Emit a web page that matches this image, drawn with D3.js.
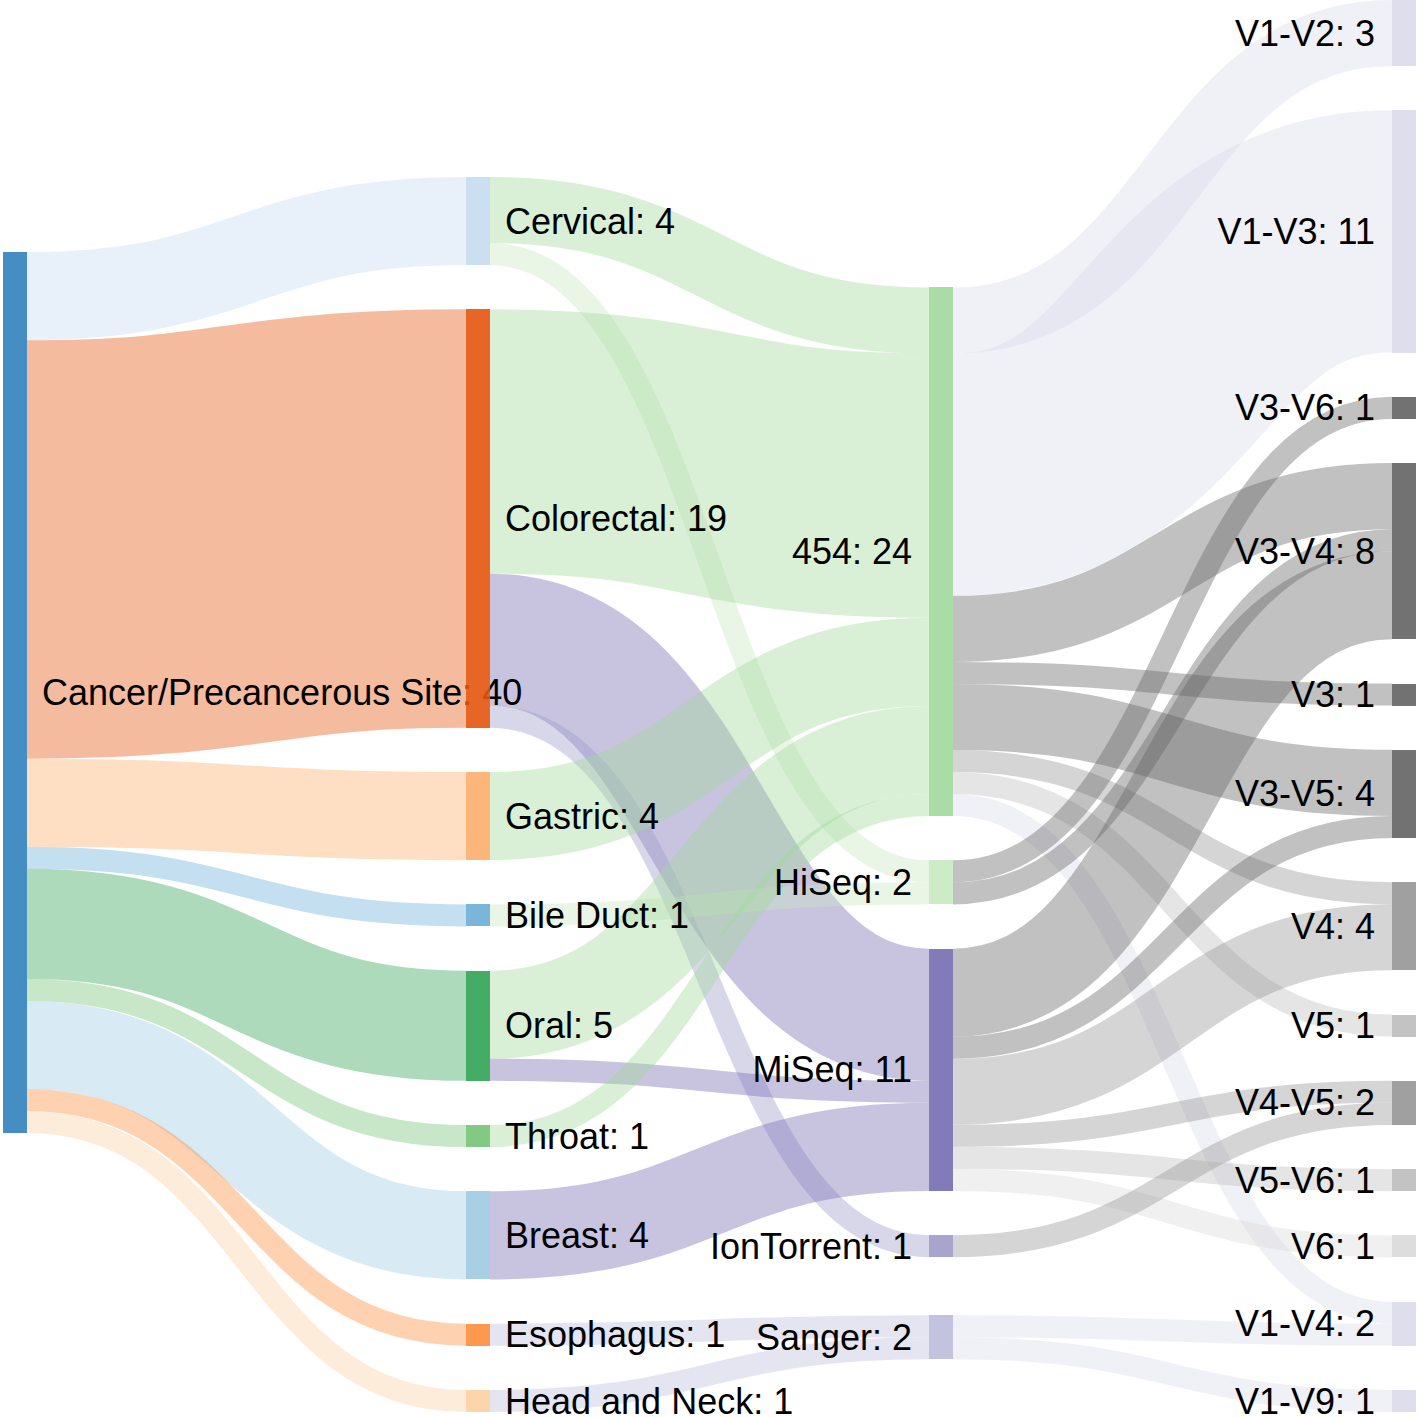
<!DOCTYPE html>
<html>
<head>
<meta charset="utf-8">
<script src="https://cdn.jsdelivr.net/npm/d3@7"></script>
<style>
  body { margin: 0; background: #fff; }
  .node rect { fill-opacity: .9; shape-rendering: crispEdges; }
  .node text { font-family: Helvetica, Arial, "Liberation Sans", sans-serif; font-size: 36px; fill: #000; }
  .link { fill: none; stroke-opacity: .4; }
</style>
</head>
<body>
<div id="chart"></div>
<script>
// data
const root = "Cancer/Precancerous Site"
const sites = ["Cervical", "Colorectal", "Gastric", "Bile Duct", "Oral", "Throat", "Breast", "Esophagus", "Head and Neck"]
const siteCounts = [4, 19, 4, 1, 5, 1, 4, 1, 1]
const platforms = ["454", "HiSeq", "MiSeq", "IonTorrent", "Sanger"]
const regions = ["V1-V2", "V1-V3", "V3-V6", "V3-V4", "V3", "V3-V5", "V4", "V5", "V4-V5", "V5-V6", "V6", "V1-V4", "V1-V9"]

const sitePlatform = [
    ["Cervical", "454", 3], ["Cervical", "HiSeq", 1],
    ["Colorectal", "454", 12], ["Colorectal", "MiSeq", 6], ["Colorectal", "IonTorrent", 1],
    ["Gastric", "454", 4],
    ["Bile Duct", "HiSeq", 1],
    ["Oral", "454", 4], ["Oral", "MiSeq", 1],
    ["Throat", "454", 1],
    ["Breast", "MiSeq", 4],
    ["Esophagus", "Sanger", 1],
    ["Head and Neck", "Sanger", 1]
]

const platformRegion = [
    ["454", "V1-V2", 3], ["454", "V1-V3", 11], ["454", "V3-V4", 3], ["454", "V3", 1],
    ["454", "V3-V5", 3], ["454", "V4", 1], ["454", "V5", 1], ["454", "V1-V4", 1],
    ["HiSeq", "V3-V6", 1], ["HiSeq", "V3-V4", 1],
    ["MiSeq", "V3-V4", 4], ["MiSeq", "V3-V5", 1], ["MiSeq", "V4", 3], ["MiSeq", "V4-V5", 1],
    ["MiSeq", "V5-V6", 1], ["MiSeq", "V6", 1],
    ["IonTorrent", "V4-V5", 1],
    ["Sanger", "V1-V4", 1], ["Sanger", "V1-V9", 1]
]

// colours (category20c shades)
const nodeColors = {
    "Cancer/Precancerous Site": "#3182bd",
    "Cervical": "#c6dbef", "Colorectal": "#e6550d", "Gastric": "#fdae6b", "Bile Duct": "#6baed6",
    "Oral": "#31a354", "Throat": "#74c476", "Breast": "#9ecae1", "Esophagus": "#fd8d3c", "Head and Neck": "#fdd0a2",
    "454": "#a1d99b", "HiSeq": "#c7e9c0", "MiSeq": "#756bb1", "IonTorrent": "#9e9ac8", "Sanger": "#bcbddc",
    "V1-V2": "#dadaeb", "V1-V3": "#dadaeb", "V3-V6": "#636363", "V3-V4": "#636363", "V3": "#636363",
    "V3-V5": "#636363", "V4": "#969696", "V5": "#bdbdbd", "V4-V5": "#969696", "V5-V6": "#bdbdbd",
    "V6": "#d9d9d9", "V1-V4": "#dadaeb", "V1-V9": "#dadaeb"
}

margin = {top: 0, left: 3}
width = 1413
height = 1412
nodeWidth = 24
nodePadding = 44.25

// build graph
nodes = [root].concat(sites, platforms, regions).map((name) => ({name: name}))
byName = new Map(nodes.map((n) => [n.name, n]))
links = sites.map((s, i) => [root, s, siteCounts[i]])
    .concat(sitePlatform, platformRegion)
    .map((e) => ({source: byName.get(e[0]), target: byName.get(e[1]), value: e[2]}))

sankeyLayout(nodes, links, 32, .7)

svg = d3.select("#chart")
    .append("svg")
    .attr("width", 1418)
    .attr("height", 1417)

g = svg.append("g")
    .attr("transform", "translate(" + margin.left + "," + margin.top + ")")

g.append("g")
    .selectAll("path")
    .data(links)
    .enter()
    .append("path")
    .attr("class", "link")
    .attr("d", linkPath)
    .attr("stroke", (e) => nodeColors[e.target.name])
    .attr("stroke-width", (e) => Math.max(1, e.dy))

node = g.append("g")
    .selectAll("g")
    .data(nodes)
    .enter()
    .append("g")
    .attr("class", "node")
    .attr("transform", (e) => "translate(" + e.x + "," + e.y + ")")

node.append("rect")
    .attr("width", nodeWidth)
    .attr("height", (e) => e.dy)
    .attr("fill", (e) => nodeColors[e.name])

node.append("text")
    .attr("x", -17)
    .attr("y", (e) => e.dy / 2)
    .attr("dy", ".35em")
    .attr("text-anchor", "end")
    .text((e) => e.name + ": " + e.value)
    .filter((e) => e.x < width / 2)
    .attr("x", nodeWidth + 15)
    .attr("text-anchor", "start")

// classic sankey layout, node order inside a column kept as given
function sankeyLayout(nodes, links, iterations, decay) {
    nodes.forEach((n) => { n.sourceLinks = []; n.targetLinks = [] })
    links.forEach((l) => { l.source.sourceLinks.push(l); l.target.targetLinks.push(l) })
    nodes.forEach((n) => {
        n.value = Math.max(d3.sum(n.sourceLinks, (l) => l.value), d3.sum(n.targetLinks, (l) => l.value))
    })

    // breadths
    remaining = nodes
    x = 0
    while (remaining.length) {
        next = []
        remaining.forEach((n) => {
            n.x = x
            n.dx = nodeWidth
            n.sourceLinks.forEach((l) => { if (next.indexOf(l.target) < 0) next.push(l.target) })
        })
        remaining = next
        x++
    }
    nodes.forEach((n) => { if (!n.sourceLinks.length) n.x = x - 1 })
    xScale = d3.scaleLinear().domain([0, x - 1]).range([0, width - nodeWidth])
    nodes.forEach((n) => { n.x = xScale(n.x) })

    // depths
    columns = d3.groups(nodes, (n) => n.x).sort((a, b) => a[0] - b[0]).map((c) => c[1])
    ky = d3.min(columns, (c) => (height - (c.length - 1) * nodePadding) / d3.sum(c, (n) => n.value))
    yScale = d3.scaleLinear().domain([0, 1]).range([0, ky])
    columns.forEach((c) => c.forEach((n, i) => { n.y = i; n.dy = yScale(n.value) }))
    links.forEach((l) => { l.dy = yScale(l.value) })

    resolveCollisions()
    for (var alpha = 1; iterations > 0; --iterations) {
        relaxRightToLeft(alpha *= decay)
        resolveCollisions()
        relaxLeftToRight(alpha)
        resolveCollisions()
    }

    // link offsets
    nodes.forEach((n) => {
        n.sourceLinks.sort((a, b) => a.target.y - b.target.y)
        n.targetLinks.sort((a, b) => a.source.y - b.source.y)
    })
    nodes.forEach((n) => {
        sy = 0
        ty = 0
        n.sourceLinks.forEach((l) => { l.sy = sy; sy += l.dy })
        n.targetLinks.forEach((l) => { l.ty = ty; ty += l.dy })
    })

    function center(n) { return n.y + n.dy / 2 }

    function relaxLeftToRight(alpha) {
        columns.forEach((c) => c.forEach((n) => {
            if (n.targetLinks.length) {
                y = d3.sum(n.targetLinks, (l) => center(l.source) * l.value) / d3.sum(n.targetLinks, (l) => l.value)
                n.y += (y - center(n)) * alpha
            }
        }))
    }

    function relaxRightToLeft(alpha) {
        columns.slice().reverse().forEach((c) => c.forEach((n) => {
            if (n.sourceLinks.length) {
                y = d3.sum(n.sourceLinks, (l) => center(l.target) * l.value) / d3.sum(n.sourceLinks, (l) => l.value)
                n.y += (y - center(n)) * alpha
            }
        }))
    }

    function resolveCollisions() {
        columns.forEach((c) => {
            var n, dy, y0 = 0, i
            for (i = 0; i < c.length; ++i) {
                n = c[i]
                dy = y0 - n.y
                if (dy > 0) n.y += dy
                y0 = n.y + n.dy + nodePadding
            }
            dy = y0 - nodePadding - height
            if (dy > 0) {
                y0 = n.y -= dy
                for (i = c.length - 2; i >= 0; --i) {
                    n = c[i]
                    dy = n.y + n.dy + nodePadding - y0
                    if (dy > 0) n.y -= dy
                    y0 = n.y
                }
            }
        })
    }
}

function linkPath(d) {
    x0 = d.source.x + d.source.dx
    x1 = d.target.x
    xi = d3.interpolateNumber(x0, x1)
    x2 = xi(.5)
    x3 = xi(.5)
    y0 = d.source.y + d.sy + d.dy / 2
    y1 = d.target.y + d.ty + d.dy / 2
    return "M" + x0 + "," + y0 + "C" + x2 + "," + y0 + " " + x3 + "," + y1 + " " + x1 + "," + y1
}
</script>
</body>
</html>
